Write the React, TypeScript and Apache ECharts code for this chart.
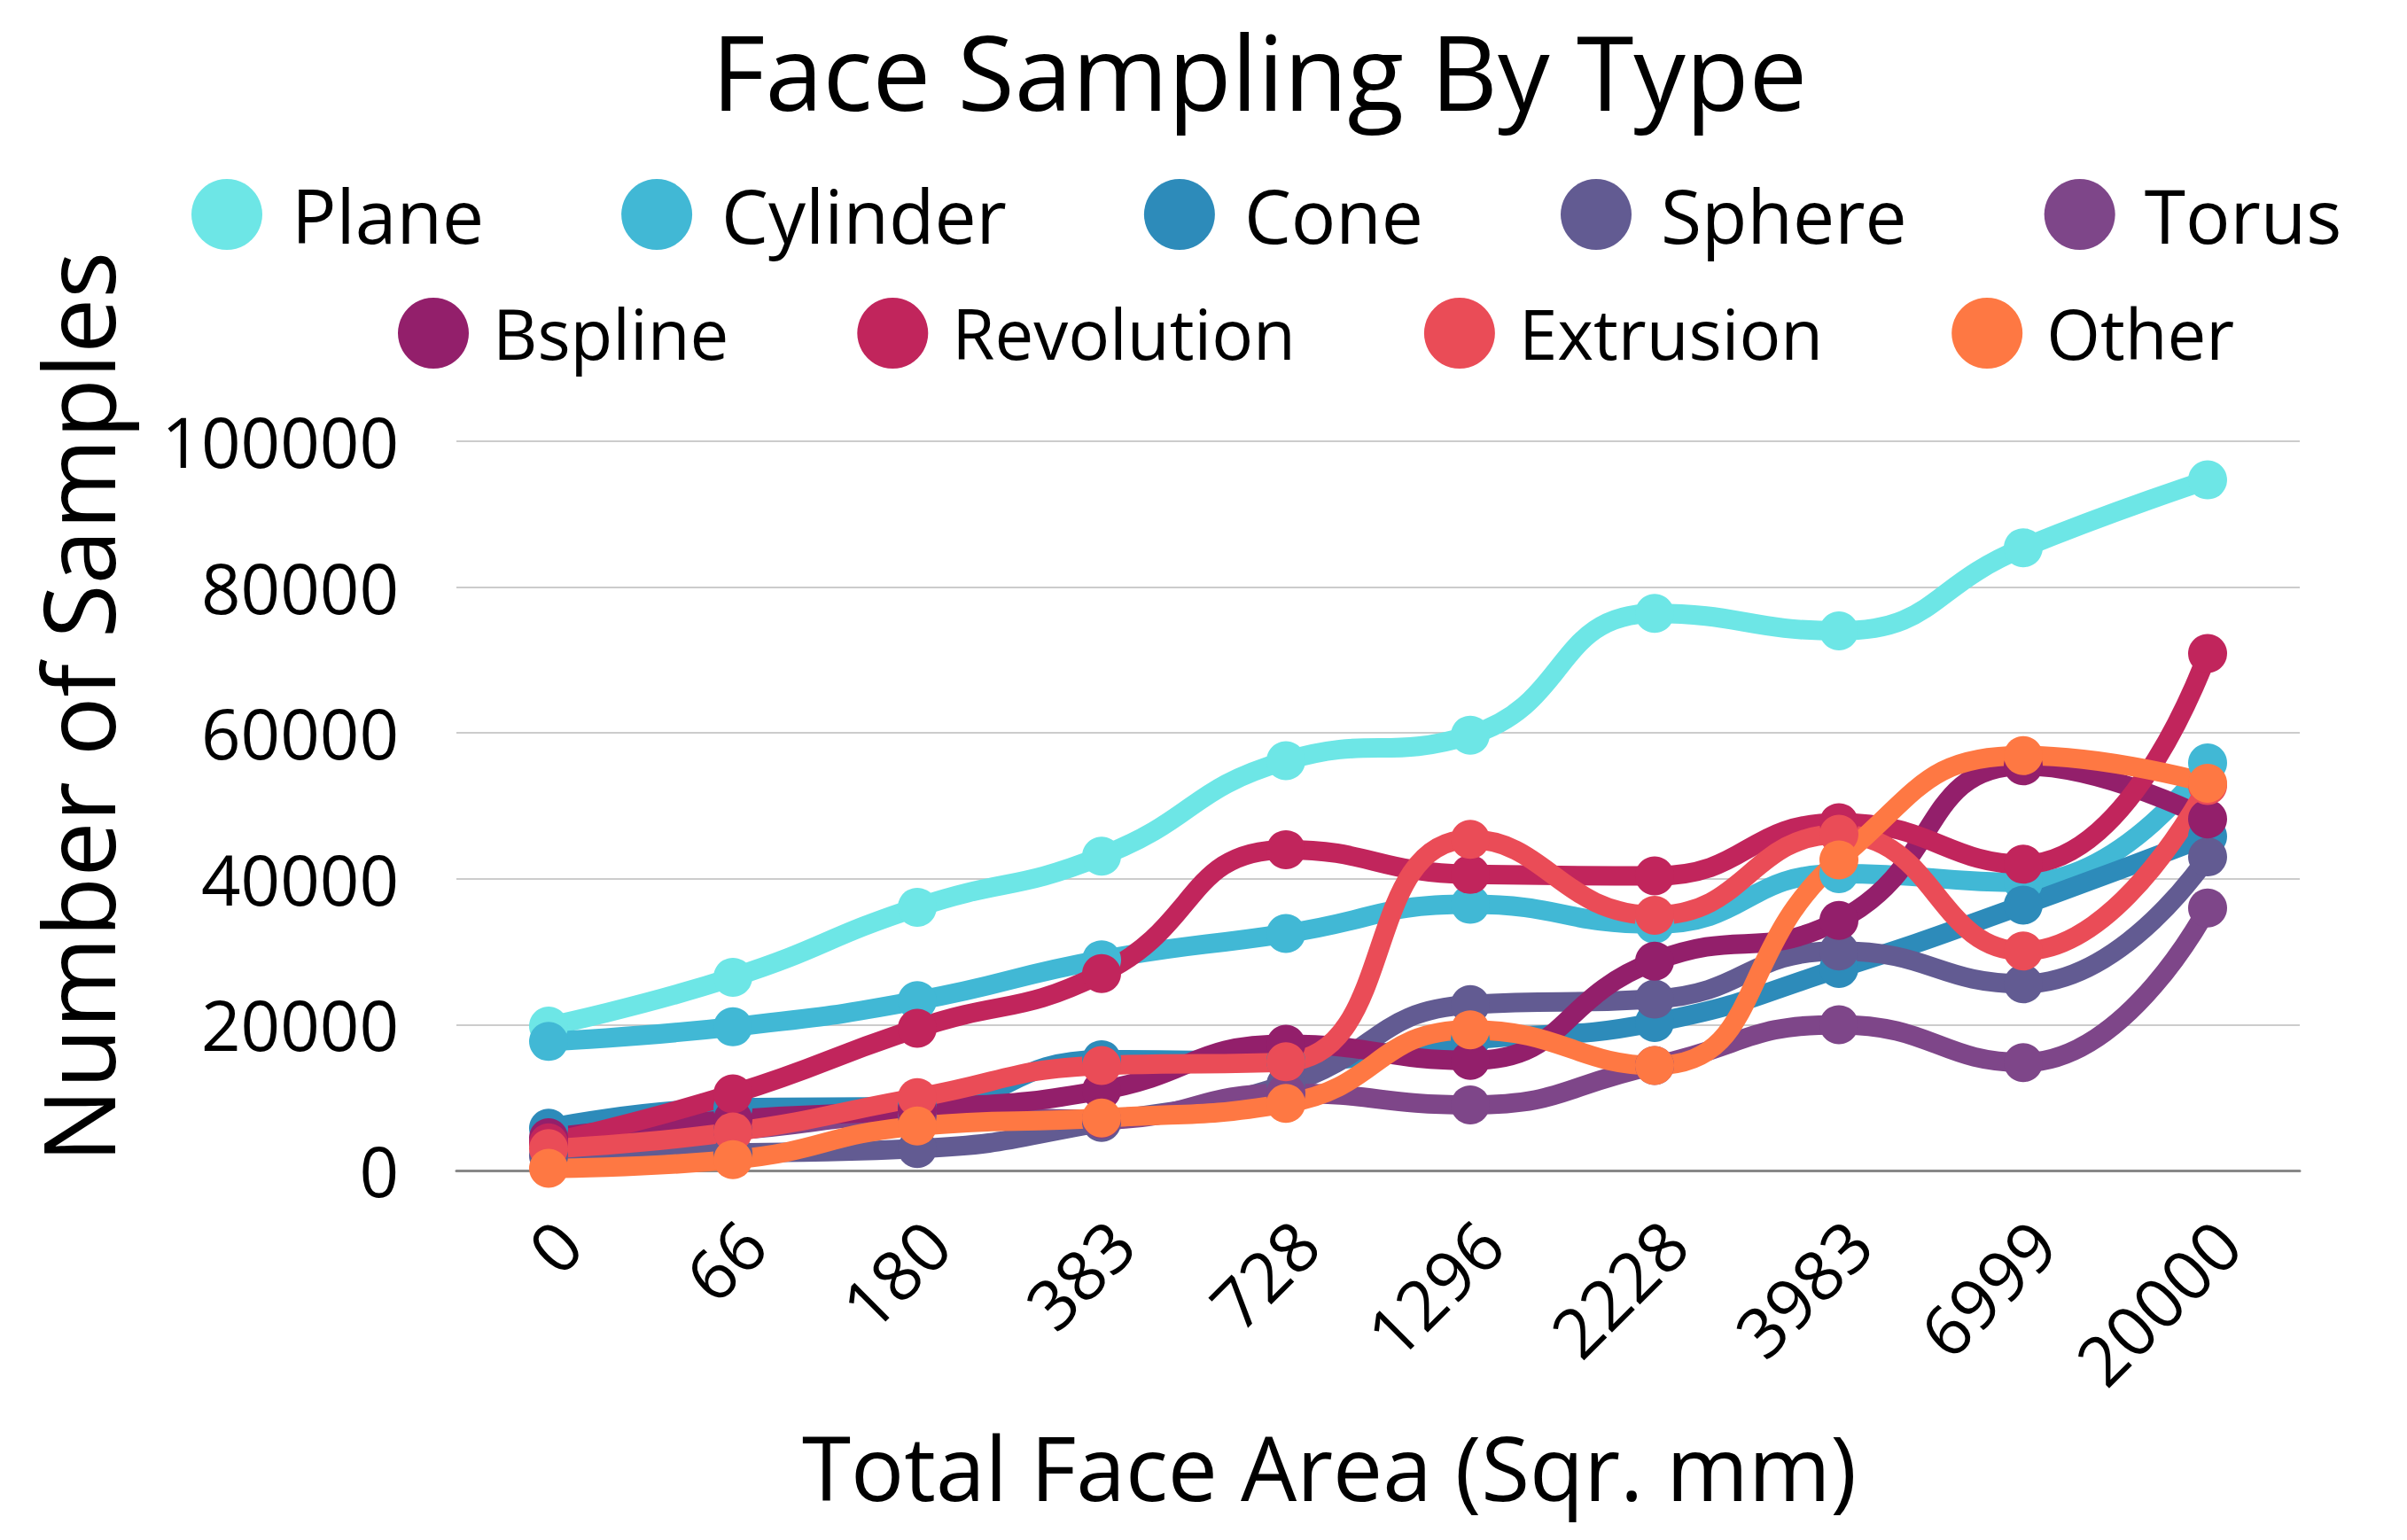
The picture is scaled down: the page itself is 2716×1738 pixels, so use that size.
import React, { useEffect, useRef } from "react";
import * as echarts from "echarts";

const categories = ["0", "66", "180", "383", "728", "1296", "2228", "3983", "6999", "20000"];
const seriesNames = ["Plane", "Cylinder", "Cone", "Sphere", "Torus", "Bspline", "Revolution", "Extrusion", "Other"];
const colors = ["#6de6e6", "#41b8d5", "#2d8bba", "#625b92", "#7e4689", "#931f6b", "#c1255c", "#ea4c57", "#fe7843"];

const plane = [19800, 26500, 36100, 43100, 56200, 59700, 76400, 74000, 85400, 94700];
const cylinder = [17700, 19700, 23300, 28900, 32500, 36500, 33800, 40700, 39500, 55900];
const cone = [5800, 8600, 8800, 15200, 15000, 17900, 20300, 27700, 36400, 45800];
const sphere = [2000, 2400, 3000, 6600, 11800, 22750, 23500, 30100, 25600, 43000];
const torus = [4000, 5500, 7600, 7000, 10600, 9000, 14400, 20000, 14800, 36000];
const bspline = [4500, 7000, 8400, 11000, 17300, 15100, 28700, 34300, 55500, 48200];
const revolution = [3800, 10500, 19500, 27000, 44000, 40600, 40400, 47700, 42000, 70900];
const extrusion = [3000, 5300, 10000, 14400, 14900, 45400, 35000, 46100, 30100, 52800];
const other = [300, 1500, 6100, 7200, 9200, 19300, 14400, 42600, 56900, 53100];

const seriesData = [plane, cylinder, cone, sphere, torus, bspline, revolution, extrusion, other];
const yTicks = { min: 0, max: 100000, interval: 20000 };

const FONT = "'Open Sans', 'Noto Sans', sans-serif";

export default function App() {
  const ref = useRef<HTMLDivElement>(null);
  useEffect(() => {
    if (!ref.current) return;
    const chart = echarts.init(ref.current, null, { renderer: "svg" });
    chart.setOption({
      animation: false,
      backgroundColor: "#fff",
      color: colors,
      title: {
        text: "Face Sampling By Type",
        left: 803,
        top: 21,
        padding: 0,
        textStyle: { fontFamily: FONT, fontSize: 117, fontWeight: "normal", color: "#000" },
      },
      legend: [
        {
          orient: "horizontal",
          icon: "circle",
          itemWidth: 80,
          itemHeight: 80,
          padding: 0,
          left: 216,
          top: 200,
          itemGap: 155,
          textStyle: { fontFamily: FONT, fontSize: 84, color: "#000", padding: [0, 0, 0, 28] },
          data: seriesNames.slice(0, 5),
        },
        {
          orient: "horizontal",
          icon: "circle",
          itemWidth: 80,
          itemHeight: 80,
          padding: 0,
          left: 449,
          top: 336,
          itemGap: 145,
          textStyle: { fontFamily: FONT, fontSize: 78, color: "#000", padding: [0, 0, 0, 22] },
          data: seriesNames.slice(5),
        },
      ],
      grid: { left: 515, right: 121, top: 498, bottom: 417, containLabel: false },
      xAxis: {
        type: "category",
        data: categories,
        boundaryGap: true,
        axisLine: { show: true, lineStyle: { color: "#888", width: 3 } },
        axisTick: { show: false },
        axisLabel: {
          fontFamily: FONT,
          fontSize: 78,
          lineHeight: 64,
          color: "#000",
          rotate: 45,
          margin: 47,
          interval: 0,
          verticalAlign: "top",
        },
        splitLine: { show: false },
      },
      yAxis: {
        type: "value",
        min: yTicks.min,
        max: yTicks.max,
        interval: yTicks.interval,
        axisLine: { show: false },
        axisTick: { show: false },
        axisLabel: {
          fontFamily: FONT,
          fontSize: 78,
          color: "#000",
          margin: 65,
          formatter: (v: number) => String(v),
        },
        splitLine: { show: true, lineStyle: { color: "#cccccc", width: 2 } },
      },
      graphic: [
        {
          type: "text",
          x: 87,
          y: 798,
          rotation: Math.PI / 2,
          style: {
            text: "Number of Samples",
            fontFamily: FONT,
            fontSize: 111,
            fill: "#000",
            align: "center",
            verticalAlign: "middle",
          },
        },
        {
          type: "text",
          x: 1500,
          y: 1655,
          style: {
            text: "Total Face Area (Sqr. mm)",
            fontFamily: FONT,
            fontSize: 100,
            fill: "#000",
            align: "center",
            verticalAlign: "middle",
          },
        },
      ],
      series: seriesNames.map((name, i) => ({
        name,
        type: "line",
        data: seriesData[i],
        smooth: 0.5,
        symbol: "circle",
        symbolSize: 44,
        clip: false,
        lineStyle: { width: 22, color: colors[i] },
        itemStyle: { color: colors[i] },
      })),
    });
    return () => chart.dispose();
  }, []);
  return (
    <div
      ref={ref}
      style={{ position: "fixed", left: 0, top: 0, width: 2716, height: 1738 }}
    />
  );
}
